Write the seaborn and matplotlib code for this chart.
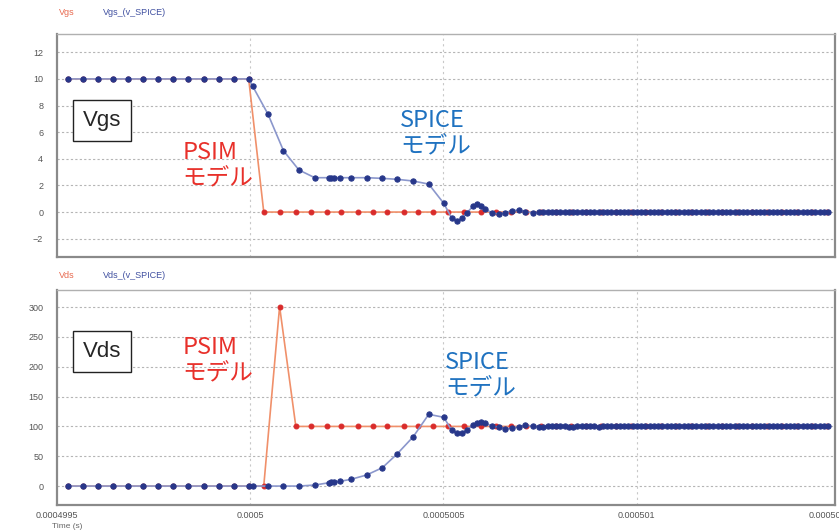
import matplotlib
matplotlib.use("Agg")
import matplotlib.pyplot as plt
import seaborn as sns
import pandas as pd

# ---- data (time in ns offset from 0.0004995 s) ----
psim_t = [28, 67, 106, 145, 183, 222, 261, 300, 339, 380, 419, 457, 496,
          535, 576, 618, 656, 698, 736, 778, 817, 855, 897, 935, 974, 1013,
          1054, 1096, 1135, 1174, 1213, 1252, 1291, 1330, 1369, 1408, 1447,
          1486, 1525, 1564, 1603, 1642, 1681, 1720, 1759, 1798, 1837, 1876,
          1915, 1954, 1993]
psim_vgs = [10] * 13 + [0] * 38
psim_vds = [0] * 14 + [301] + [100] * 36

spice_t = [28, 67, 106, 145, 183, 222, 261, 300, 339, 380, 419, 457, 497,
           506, 546, 586, 626, 667, 704, 710, 717, 732, 760, 801, 842, 880,
           922, 962, 1001, 1021, 1035, 1048, 1061, 1077, 1087, 1097, 1108,
           1126, 1143, 1160, 1177, 1195, 1212, 1233,
           1248, 1259, 1270, 1281, 1292, 1303, 1314, 1325, 1336, 1347,
           1358, 1369, 1380, 1391, 1402, 1413, 1424, 1435, 1446, 1457,
           1468, 1479, 1490, 1501, 1512, 1523, 1534, 1545, 1556, 1567,
           1578, 1589, 1600, 1611, 1622, 1633, 1644, 1655, 1666, 1677,
           1688, 1699, 1710, 1721, 1732, 1743, 1754, 1765, 1776, 1787,
           1798, 1809, 1820, 1831, 1842, 1853, 1864, 1875, 1886, 1897,
           1908, 1919, 1930, 1941, 1952, 1963, 1974, 1985, 1996]
spice_vgs = [10] * 13 + [
    9.47, 7.35, 4.61, 3.16, 2.58, 2.58, 2.58, 2.58, 2.58, 2.58, 2.58, 2.53,
    2.46, 2.33, 2.10, 0.65, -0.43, -0.68, -0.48, -0.05, 0.45, 0.58, 0.45,
    0.20, -0.05, -0.17, -0.05, 0.10, 0.15, 0.02, -0.05] + [
    -0.03, 0.02, 0.04, 0.03, 0.0, -0.02, -0.02, 0.0, 0.02, 0.02,
    0.01, 0.0, -0.01, 0.0, 0.01, 0.01, 0.0, 0.0, 0.0, 0.01] + [0.0] * 49
spice_vds = [0] * 13 + [
    0, 0, 0, 0, 1.7, 5.6, 6.7, 7.2, 7.9, 11.2, 18.5, 30.8, 53.7, 82.8,
    120.3, 115.3, 94.0, 88.4, 89.5, 94.0, 102.3, 106.0, 108.0, 105.0, 101.0,
    98.4, 96.0, 97.0, 99.5, 102.0, 100.5] + [
    99.5, 99.5, 100.2, 101.0, 101.2, 100.6, 100.0, 99.6, 99.6, 100.0,
    100.5, 100.6, 100.3, 100.0, 99.8, 99.9, 100.2, 100.3, 100.1, 100.0] + [100.0] * 49

x_ticks = [0, 500, 1000, 1500, 2000]
x_labels = ["0.0004995", "0.0005", "0.0005005", "0.000501", "0.0005015"]
vgs_ticks = [-2, 0, 2, 4, 6, 8, 10, 12]
vds_ticks = [0, 50, 100, 150, 200, 250, 300]

psim = pd.DataFrame({"t": psim_t, "Vgs": psim_vgs, "Vds": psim_vds})
spice = pd.DataFrame({"t": spice_t, "Vgs": spice_vgs, "Vds": spice_vds})

# ---- style ----
sns.set_style("white")
plt.rcParams["font.family"] = ["Liberation Sans", "Noto Sans CJK JP", "DejaVu Sans"]
JP = ["Noto Sans CJK JP", "DejaVu Sans"]

RED_LINE = "#f0906a"
RED_DOT = "#d92b2b"
BLUE_LINE = "#8b97cc"
BLUE_DOT = "#27378a"
PSIM_TXT = "#e8302a"
SPICE_TXT = "#1f72c0"

fig = plt.figure(figsize=(8.39, 5.30), dpi=100)
ax1 = fig.add_axes([0.068, 0.515, 0.927, 0.421])
ax2 = fig.add_axes([0.068, 0.047, 0.927, 0.406])


def draw(ax, col, ylim, yticks):
    sns.lineplot(data=psim, x="t", y=col, ax=ax, color=RED_LINE, lw=1.2,
                 marker="o", markersize=3.5, markerfacecolor=RED_DOT,
                 markeredgecolor=RED_DOT, zorder=3)
    sns.lineplot(data=spice, x="t", y=col, ax=ax, color=BLUE_LINE, lw=1.2,
                 marker="o", markersize=3.8, markerfacecolor=BLUE_DOT,
                 markeredgecolor=BLUE_DOT, zorder=4)
    ax.set_xlim(0, 2013)
    ax.set_ylim(*ylim)
    ax.set_yticks(yticks)
    ax.set_xticks(x_ticks)
    ax.set_xlabel("")
    ax.set_ylabel("")
    ax.tick_params(length=0, labelsize=6.5, colors="#555555", pad=10)
    for y in yticks:
        ax.axhline(y, color="#b5b5b5", lw=0.8, ls=(0, (2, 2)), zorder=1)
    for x in x_ticks[1:4]:
        ax.axvline(x, color="#c8c8c8", lw=0.8, ls=(0, (2, 3)), zorder=1)
    for s in ax.spines.values():
        s.set_color("#8a8a8a")
        s.set_linewidth(1.6)
    ax.spines["top"].set_color("#b0b0b0")
    ax.spines["top"].set_linewidth(1.0)


draw(ax1, "Vgs", (-3.38, 13.38), vgs_ticks)
draw(ax2, "Vds", (-31.9, 328.9), vds_ticks)
ax1.set_xticklabels([])
ax2.set_xticklabels(x_labels)
ax2.tick_params(axis="x", pad=4)

# legend captions above each panel
fig.text(0.070, 0.977, "Vgs", color="#e86a50", fontsize=6.5, va="center")
fig.text(0.123, 0.977, "Vgs_(v_SPICE)", color="#4050a0", fontsize=6.5, va="center")
fig.text(0.070, 0.481, "Vds", color="#e86a50", fontsize=6.5, va="center")
fig.text(0.123, 0.481, "Vds_(v_SPICE)", color="#4050a0", fontsize=6.5, va="center")
fig.text(0.062, 0.0, "Time (s)", color="#666666", fontsize=6, va="bottom")

box = dict(boxstyle="square,pad=0.45", facecolor="white", edgecolor="#222222", lw=1.0)
ax1.text(0.058, 0.61, "Vgs", transform=ax1.transAxes, fontsize=16,
         ha="center", va="center", bbox=box, zorder=6)
ax2.text(0.058, 0.712, "Vds", transform=ax2.transAxes, fontsize=16,
         ha="center", va="center", bbox=box, zorder=6)

kw = dict(fontsize=17, ha="left", va="center", linespacing=1.2, zorder=6,
          family=JP)
ax1.text(0.161, 0.408, "PSIM\nモデル", transform=ax1.transAxes,
         color=PSIM_TXT, **kw)
ax1.text(0.441, 0.553, "SPICE\nモデル", transform=ax1.transAxes,
         color=SPICE_TXT, **kw)
ax2.text(0.161, 0.672, "PSIM\nモデル", transform=ax2.transAxes,
         color=PSIM_TXT, **kw)
ax2.text(0.499, 0.602, "SPICE\nモデル", transform=ax2.transAxes,
         color=SPICE_TXT, **kw)

fig.savefig("out.png", dpi=100, facecolor="white")
